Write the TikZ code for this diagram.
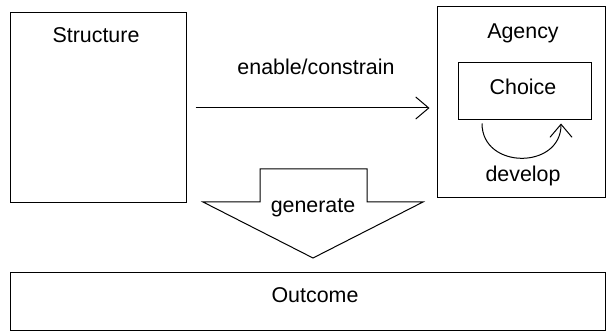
\documentclass[tikz,border=0pt]{standalone}
\usepackage{fontspec}
\setmainfont{Liberation Sans}
\usetikzlibrary{arrows.meta}

\begin{document}
\begin{tikzpicture}[x=0.5pt, y=0.5pt, line width=0.5pt,
		box/.style={draw, inner sep=0pt},
		txt/.style={anchor=base, inner sep=0pt, font=\fontsize{10.7}{13}\selectfont},
		>={Straight Barb[length=6.5pt, width=11pt]}]
		\useasboundingbox (0,0) rectangle (608,331);
		
		% --- Kaesten ---
		\node[box, minimum width=88pt, minimum height=95pt] (structure) at (98, 223) {};
		\node[box, minimum width=84pt, minimum height=95.5pt] (agency) at (521, 228.5) {};
		\node[box, minimum width=66.5pt, minimum height=28.5pt] (choice) at (524.5, 239.5) {};
		\node[box, minimum width=297.5pt, minimum height=28.5pt] (outcome) at (307.5, 29.5) {};
		
		% --- Beschriftungen ---
		\node[txt] (structurelbl) at (96, 288) {Structure};
		\node[txt] (agencylbl) at (523, 292) {Agency};
		\node[txt] (choicelbl) at (523, 236) {Choice};
		\node[txt] (outcomelbl) at (315, 29) {Outcome};
		\node[txt] (enablelbl) at (316, 256) {enable/constrain};
		\node[txt] (developlbl) at (523, 149) {develop};
		
		% --- Pfeile ---
		\draw[->, shorten <=4.5pt, shorten >=3.5pt] (structure.east) -- (structure.east -| agency.west);
		\draw[->] ([xshift=-21.25pt, yshift=-1.5pt]choice.south) to[out=-90, in=-90, looseness=1.5] ([xshift=18.25pt, yshift=-1.5pt]choice.south);
		
		% Blockpfeil
		\draw (260,162) -- (367,162) -- (367,129) -- (423,129) -- (313,73) -- (203,129) -- (260,129) -- cycle;
		\node[txt] (generatelbl) at (313, 118) {generate};
		
	\end{tikzpicture}
\end{document}
